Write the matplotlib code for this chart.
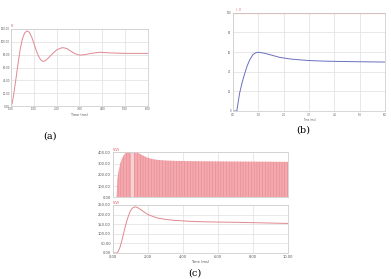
import numpy as np
import matplotlib
matplotlib.use("Agg")
import matplotlib.pyplot as plt

# ── Data ──────────────────────────────────────────────────────────────────────
# (a) underdamped step response
a_t = [0.00, 0.05, 0.10, 0.20, 0.30, 0.40, 0.50, 0.60, 0.70, 0.80, 0.90, 1.00,
       1.10, 1.20, 1.30, 1.40, 1.50, 1.60, 1.80, 2.00, 2.20, 2.30, 2.45, 2.60,
       2.80, 3.00, 3.20, 3.50, 3.90, 4.30, 5.00, 6.00]
a_v = [0.0, 4.0, 14.0, 38.0, 64.0, 88.0, 105.0, 114.0, 117.0, 115.0, 108.0, 98.0,
       87.0, 78.0, 72.0, 69.5, 70.5, 73.5, 81.0, 87.5, 90.5, 90.8, 89.5, 86.0,
       81.5, 79.3, 79.8, 82.0, 83.8, 82.8, 82.0, 82.0]
a_xticks = [0, 1, 2, 3, 4, 5, 6]
a_yticks = [0, 20, 40, 60, 80, 100, 120]

# (b) reference (red) and response (blue)
b_t = [0.00, 0.15, 0.26, 0.36, 0.46, 0.56, 0.66, 0.79, 0.90, 1.00, 1.20, 1.50,
       1.85, 2.30, 2.95, 3.50, 4.00, 5.00, 6.00]
b_v = [0.0, 0.0, 18.0, 29.0, 38.0, 46.0, 52.0, 57.5, 59.3, 59.7, 59.0, 57.0,
       54.5, 52.8, 51.4, 50.8, 50.5, 50.1, 49.8]
b_ref_t = [0.0, 6.0]
b_ref_v = [100.0, 100.0]
b_xticks = [0, 1, 2, 3, 4, 5, 6]
b_yticks = [0, 20, 40, 60, 80, 100]

# (c) switched voltage envelope (top) and output voltage (bottom)
c_env_t = [0.00, 0.20, 0.25, 0.30, 0.40, 0.50, 0.60, 0.70, 0.80, 1.00, 1.20,
           1.36, 1.50, 1.70, 1.93, 2.20, 2.50, 3.00, 3.50, 4.50, 6.00, 8.00, 10.00]
c_env_v = [0.0, 0.0, 160.0, 218.0, 294.0, 340.0, 370.0, 392.0, 400.0, 400.0, 400.0,
           400.0, 390.0, 372.0, 355.0, 342.0, 333.0, 327.0, 324.0, 321.0, 319.0, 317.0, 315.0]
c_out_t = [0.00, 0.20, 0.30, 0.40, 0.50, 0.60, 0.70, 0.80, 0.90, 1.00, 1.10, 1.20,
           1.30, 1.40, 1.60, 1.80, 2.00, 2.50, 3.00, 3.50, 4.40, 5.00, 6.00, 7.00,
           8.00, 9.00, 10.00]
c_out_v = [0.0, 0.0, 8.0, 30.0, 62.0, 100.0, 137.0, 170.0, 198.0, 220.0, 233.0, 239.0,
           240.0, 237.0, 225.0, 212.0, 200.0, 183.0, 175.0, 170.0, 165.0, 163.0, 161.0,
           160.0, 158.0, 156.0, 154.0]
c_xticks = [0, 2, 4, 6, 8, 10]
c_top_yticks = [0, 100, 200, 300, 400]
c_bot_yticks = [0, 50, 100, 150, 200, 250]

GRID = "#e4e4e4"
SPINE = "#d0d0d0"
PINK = "#e08890"
TXT = "#555555"


def style(ax, xticks, yticks, fs, xlab=True, pad=1.5):
    ax.set_xticks(xticks)
    ax.set_yticks(yticks)
    ax.set_xticklabels([f"{v:.2f}" for v in xticks] if xlab else [])
    ax.set_yticklabels([f"{v:.2f}" for v in yticks])
    ax.tick_params(length=0, labelsize=fs, colors=TXT, pad=pad)
    ax.grid(True, color=GRID, linewidth=0.6)
    ax.set_axisbelow(True)
    for s in ax.spines.values():
        s.set_color(SPINE)
        s.set_linewidth(0.6)


fig = plt.figure(figsize=(3.91, 2.79), dpi=100)
W, H = 391.0, 279.0


def add_ax(x0, y0, x1, y1):
    return fig.add_axes([x0 / W, 1 - y1 / H, (x1 - x0) / W, (y1 - y0) / H])


# ── (a) ──────────────────────────────────────────────────────────────────────
ax = add_ax(11, 29, 148, 106)
ax.plot(a_t, a_v, color=PINK, linewidth=0.7)
ax.set_xlim(0, 6)
ax.set_ylim(0, 120)
style(ax, a_xticks, a_yticks, 1.9, pad=0.8)
ax.set_xlabel("Time (ms)", fontsize=2.4, color=TXT, labelpad=1)
ax.text(0.0, 1.01, "V", transform=ax.transAxes, fontsize=2.4, color="#d04050",
        ha="left", va="bottom")
fig.text(50 / W, 1 - 136 / H, "(a)", fontsize=7, family="DejaVu Serif",
         ha="center", va="center")

# ── (b) ──────────────────────────────────────────────────────────────────────
ax = add_ax(233, 12.7, 385, 111)
ax.plot(b_ref_t, b_ref_v, color="#f07070", linewidth=0.8)
ax.plot(b_t, b_v, color="#6a70c0", linewidth=0.7)
ax.set_xlim(0, 6)
ax.set_ylim(0, 100)
style(ax, b_xticks, b_yticks, 1.8)
ax.set_yticklabels([f"{v:.0f}" for v in b_yticks])
ax.set_xticklabels([f"{v:.1f}" for v in b_xticks])
ax.set_xlabel("Time (ms)", fontsize=1.8, color=TXT, labelpad=1)
ax.text(0.02, 1.005, "I - V", transform=ax.transAxes, fontsize=1.8,
        color="#d04050", ha="left", va="bottom")
fig.text(303 / W, 1 - 130 / H, "(b)", fontsize=7, family="DejaVu Serif",
         ha="center", va="center")

# ── (c) top: switched voltage ────────────────────────────────────────────────
plt.rcParams["hatch.linewidth"] = 0.35
ax = add_ax(113, 152.3, 288, 197.3)
env_t = np.array(c_env_t)
env_v = np.array(c_env_v)
ax.fill_between(env_t, 0, env_v, facecolor="#f3a9ae", edgecolor="#e4838c",
                hatch="||||||", linewidth=0)
light = (env_t >= 0.95) & (env_t <= 1.20)
ax.fill_between(env_t, 0, env_v, where=light, facecolor="#f6d2d2",
                edgecolor="#f0b8bc", hatch="|||", linewidth=0)
ax.set_xlim(0, 10)
ax.set_ylim(0, 400)
style(ax, c_xticks, c_top_yticks, 2.6, xlab=False)
ax.text(0.0, 1.01, "V(V)", transform=ax.transAxes, fontsize=2.4,
        color="#d04050", ha="left", va="bottom")

# ── (c) bottom: output voltage ───────────────────────────────────────────────
ax = add_ax(113, 205, 288, 253)
ax.plot(c_out_t, c_out_v, color=PINK, linewidth=0.7)
ax.set_xlim(0, 10)
ax.set_ylim(0, 250)
style(ax, c_xticks, c_bot_yticks, 2.6)
ax.set_xlabel("Time (ms)", fontsize=2.6, color=TXT, labelpad=1)
ax.text(0.0, 1.01, "V(V)", transform=ax.transAxes, fontsize=2.4,
        color="#d04050", ha="left", va="bottom")
fig.text(195 / W, 1 - 273 / H, "(c)", fontsize=7, family="DejaVu Serif",
         ha="center", va="center")

fig.savefig("out.png", dpi=100)
